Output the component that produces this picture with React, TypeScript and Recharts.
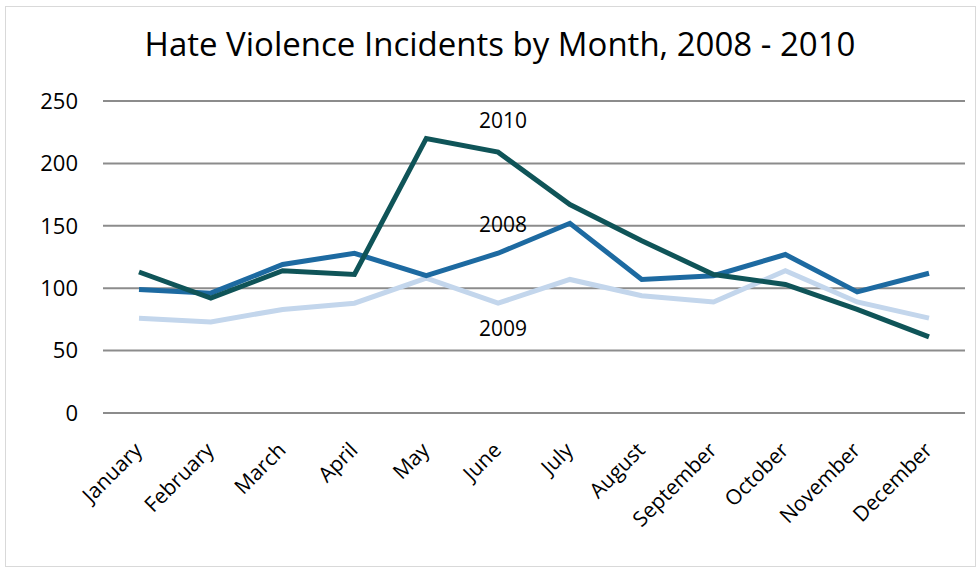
import React from 'react';
import { LineChart, Line, XAxis, YAxis, CartesianGrid, ReferenceDot } from 'recharts';

const months = ['January', 'February', 'March', 'April', 'May', 'June', 'July', 'August', 'September', 'October', 'November', 'December'];
const y2008 = [99, 96, 119, 128, 110, 128, 152, 107, 110, 127, 97, 112];
const y2009 = [76, 73, 83, 88, 108, 88, 107, 94, 89, 114, 89, 76];
const y2010 = [113, 92, 114, 111, 220, 209, 167, 138, 111, 103, 83, 61];
const yTicks = [0, 50, 100, 150, 200, 250];
const seriesLabels = [
  { text: '2010', y: 234 },
  { text: '2008', y: 151 },
  { text: '2009', y: 68 },
];

const data = months.map((m, i) => ({ month: m, s2008: y2008[i], s2009: y2009[i], s2010: y2010[i] }));

const FONT = "'Open Sans', sans-serif";

const XTick = (props: any) => {
  const { x, y, payload } = props;
  return (
    <g transform={`translate(${x - 4},${y + 22})`}>
      <text x={0} y={0} dy={12} textAnchor="end" transform="rotate(-45)" fill="#000" fontSize={21} fontFamily={FONT}>
        {payload.value}
      </text>
    </g>
  );
};

export default function App() {
  return (
    <div style={{ position: 'absolute', left: 0, top: 0, width: 980, height: 569, background: '#fff' }}>
      <div style={{ position: 'absolute', left: 5, top: 6, width: 969, height: 559, border: '1px solid #D9D9D9' }} />
      <div style={{ position: 'absolute', left: 0, top: 21, width: 1000, textAlign: 'center', fontFamily: FONT, fontSize: 33, color: '#000' }}>
        Hate Violence Incidents by Month, 2008 - 2010
      </div>
      <div style={{ position: 'absolute', left: 0, top: 0 }}>
        <LineChart width={980} height={569} data={data} margin={{ top: 101, right: 15, bottom: 0, left: 0 }}>
          <CartesianGrid vertical={false} stroke="#8C8C8C" strokeWidth={2} />
          <XAxis
            dataKey="month"
            axisLine={false}
            tickLine={false}
            tick={<XTick />}
            interval={0}
            height={156}
            padding={{ left: 36, right: 36 }}
          />
          <YAxis
            domain={[0, 250]}
            ticks={yTicks}
            width={103}
            axisLine={false}
            tickLine={false}
            tickMargin={19}
            tick={{ fill: '#000', fontSize: 22, fontFamily: FONT }}
          />
          <Line dataKey="s2009" stroke="#C3D6EC" strokeWidth={5} dot={false} isAnimationActive={false} />
          <Line dataKey="s2008" stroke="#1D6AA1" strokeWidth={5} dot={false} isAnimationActive={false} />
          <Line dataKey="s2010" stroke="#0F5458" strokeWidth={5} dot={false} isAnimationActive={false} />
          {seriesLabels.map((l) => (
            <ReferenceDot
              key={l.text}
              x="June"
              y={l.y}
              r={0}
              fill="none"
              stroke="none"
              label={{ value: l.text, position: 'center', dx: 5, fill: '#000', fontSize: 21, fontFamily: FONT }}
            />
          ))}
        </LineChart>
      </div>
    </div>
  );
}
